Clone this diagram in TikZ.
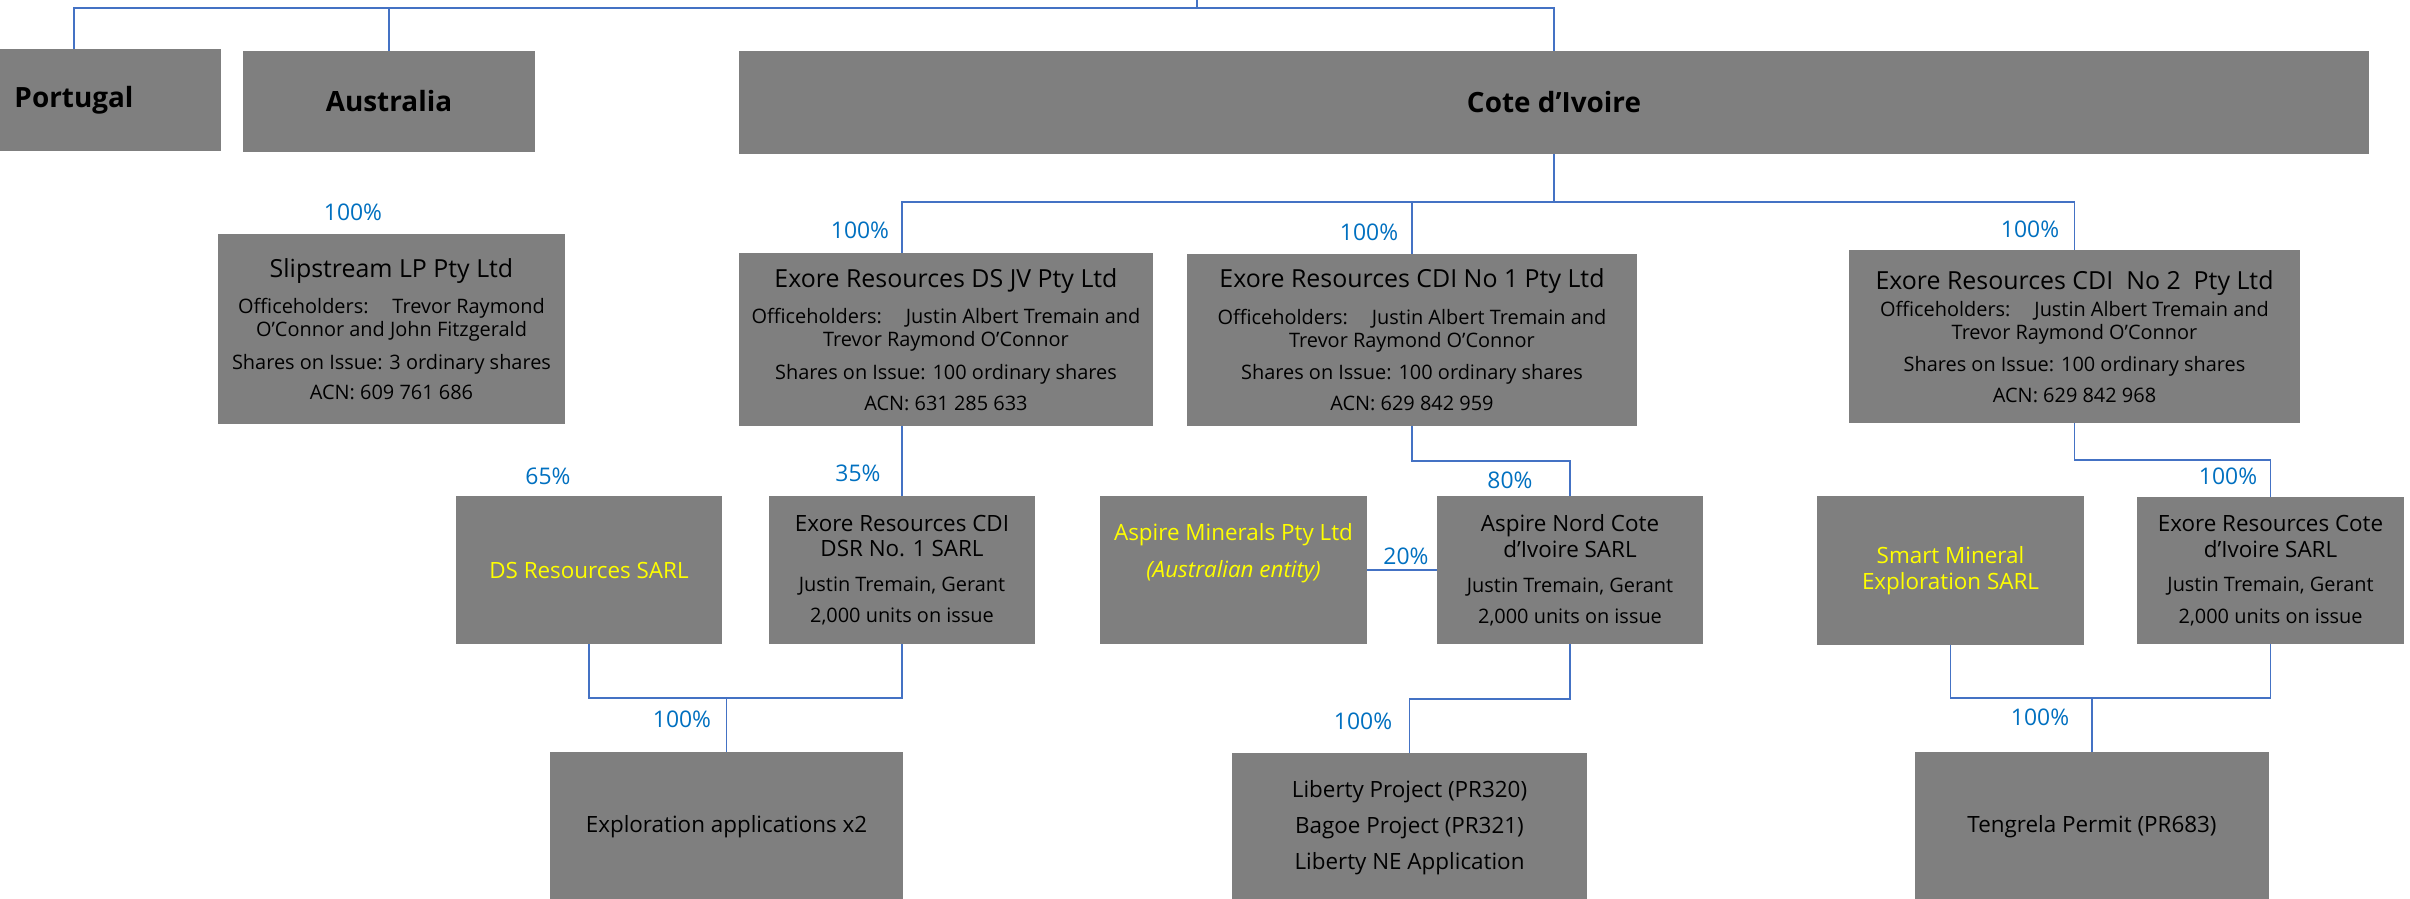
\documentclass[tikz,border=0pt]{standalone}
\usepackage{fontspec}
\setmainfont{Open Sans}
\definecolor{boxgray}{RGB}{127,127,127}
\definecolor{connblue}{RGB}{68,114,196}
\definecolor{pctblue}{RGB}{0,112,192}
\definecolor{ylwtext}{RGB}{255,255,0}
\newcommand\TA{\fontsize{25}{27}\selectfont}
\newcommand\TB{\fontsize{22.5}{26}\selectfont}
\newcommand\BD{\fontsize{20}{23}\selectfont}
\newcommand\ofgap{\hspace{1.2em}}
\tikzset{
  box/.style={rectangle, fill=boxgray, inner sep=0pt, align=center, font=\BD, text=black},
  conn/.style={draw=connblue, line width=1.5bp},
  pct/.style={text=pctblue, inner sep=0pt, font=\fontsize{23}{25}\selectfont},
  hdr/.style={font=\fontsize{28}{30}\selectfont\bfseries},
  ylw/.style={text=ylwtext},
}
\begin{document}
\begin{tikzpicture}[x=1bp,y=-1bp]
\useasboundingbox (0,0) rectangle (2410,898);
\fill[white] (0,0) rectangle (2410,898);
\clip (0,0) rectangle (2410,898);
% top level
\node[box,hdr,minimum width=294bp,minimum height=102bp] (portugal) at (74,100) {Portugal};
\node[box,hdr,minimum width=292bp,minimum height=101bp] (australia) at (389,101.5) {Australia};
\node[box,hdr,minimum width=1630bp,minimum height=103bp] (cote) at (1554,102.5) {Cote d’Ivoire};
% level 2
\node[box,minimum width=347bp,minimum height=190bp] (slip) at (391.5,329) {{\TA Slipstream LP Pty Ltd}\\[13.5pt] Officeholders:\ofgap Trevor Raymond\\ O’Connor and John Fitzgerald\\[10pt] Shares on Issue: 3 ordinary shares\\[7pt] ACN: 609 761 686};
\node[box,minimum width=414bp,minimum height=173bp] (dsjv) at (946,339.5) {{\TA Exore Resources DS JV Pty Ltd}\\[13.5pt] Officeholders:\ofgap Justin Albert Tremain and\\ Trevor Raymond O’Connor\\[10pt] Shares on Issue: 100 ordinary shares\\[8pt] ACN: 631 285 633};
\node[box,minimum width=450bp,minimum height=172bp] (cdi1) at (1412,340) {{\TA Exore Resources CDI No 1 Pty Ltd}\\[13.5pt] Officeholders:\ofgap Justin Albert Tremain and\\ Trevor Raymond O’Connor\\[10pt] Shares on Issue: 100 ordinary shares\\[8pt] ACN: 629 842 959};
\node[box,minimum width=451bp,minimum height=173bp] (cdi2) at (2074.5,336.5) {{\TA Exore Resources CDI\ \ No 2\ \ Pty Ltd}\\[4.5pt] Officeholders:\ofgap Justin Albert Tremain and\\ Trevor Raymond O’Connor\\[9pt] Shares on Issue: 100 ordinary shares\\[8pt] ACN: 629 842 968};
% level 3
\node[box,ylw,font=\TB,minimum width=266bp,minimum height=148bp] (dsr) at (589,570) {DS Resources SARL};
\node[box,minimum width=266bp,minimum height=148bp] (cdidsr) at (902,570) {{\TB Exore Resources CDI}\\[3pt]{\TB DSR No. 1 SARL}\\[12pt] Justin Tremain, Gerant\\[8pt] 2,000 units on issue};
\node[box,ylw,font=\TB,minimum width=267bp,minimum height=148bp] (aspmin) at (1233.5,570) {Aspire Minerals Pty Ltd\\[11pt]{\itshape (Australian entity)}\\[13.4pt]\mbox{}};
\node[box,minimum width=266bp,minimum height=148bp] (aspnord) at (1570,570) {{\TB Aspire Nord Cote}\\[3pt]{\TB d’Ivoire SARL}\\[12pt] Justin Tremain, Gerant\\[8pt] 2,000 units on issue};
\node[box,ylw,font=\TB,minimum width=267bp,minimum height=149bp] (smart) at (1950.5,570.5) {Smart Mineral\\ Exploration SARL};
\node[box,minimum width=267bp,minimum height=147bp] (exocdi) at (2270.5,570.5) {{\TB Exore Resources Cote}\\[3pt]{\TB d’Ivoire SARL}\\[11pt] Justin Tremain, Gerant\\[9pt] 2,000 units on issue};
% bottom level
\node[box,font=\TB,minimum width=353bp,minimum height=150bp] (expl) at (726.5,827) {Exploration applications x2};
\node[box,font=\TB,minimum width=355bp,minimum height=149bp] (liberty) at (1409.5,827.5) {Liberty Project (PR320)\\[10pt] Bagoe Project (PR321)\\[10pt] Liberty NE Application};
\node[box,font=\TB,minimum width=354bp,minimum height=150bp] (tengrela) at (2092,827) {Tengrela Permit (PR683)};
% connector junctions
\coordinate (root) at (1197,0);
\coordinate (rootj) at (1197,8);
\coordinate (jv) at (902,202);
\coordinate (j3) at (0,698);
\coordinate (j4) at (0,461);
\coordinate (j5) at (0,699);
\coordinate (j6) at (0,460);
\coordinate (j7) at (0,698);
% connectors
\draw[conn] (root) -- (rootj);
\draw[conn] (portugal.north) -- (portugal.north |- rootj) -- (cote.north |- rootj) -- (cote.north);
\draw[conn] (australia.north) -- (australia.north |- rootj);
\draw[conn] (cote.south) -- (cote.south |- jv);
\draw[conn] (dsjv.north -| jv) -- (jv) -- (cdi2.north |- jv) -- (cdi2.north);
\draw[conn] (cdi1.north) -- (cdi1.north |- jv);
\draw[conn] (dsjv.south -| cdidsr.north) -- (cdidsr.north);
\draw[conn] (dsr.south) -- (dsr.south |- j3) -- (cdidsr.south |- j3) -- (cdidsr.south);
\draw[conn] (expl.north) -- (expl.north |- j3);
\draw[conn] (cdi1.south) -- (cdi1.south |- j4) -- (aspnord.north |- j4) -- (aspnord.north);
\draw[conn] (aspmin.east) -- (aspnord.west);
\draw[conn] (aspnord.south) -- (aspnord.south |- j5) -- (liberty.north |- j5) -- (liberty.north);
\draw[conn] (cdi2.south) -- (cdi2.south |- j6) -- (exocdi.north |- j6) -- (exocdi.north);
\draw[conn] (smart.south) -- (smart.south |- j7) -- (exocdi.south |- j7) -- (exocdi.south);
\draw[conn] (tengrela.north) -- (tengrela.north |- j7);
% percentages
\node[pct] (p1) at (353,212) {100\%};
\node[pct] (p2) at (860,230) {100\%};
\node[pct] (p3) at (1369,232) {100\%};
\node[pct] (p4) at (2030,229) {100\%};
\node[pct] (p5) at (548,476) {65\%};
\node[pct] (p6) at (858,473) {35\%};
\node[pct] (p7) at (1510,480) {80\%};
\node[pct] (p8) at (1406,556) {20\%};
\node[pct] (p9) at (682,719) {100\%};
\node[pct] (p10) at (1363,721) {100\%};
\node[pct] (p11) at (2228,476) {100\%};
\node[pct] (p12) at (2040,717) {100\%};
\end{tikzpicture}
\end{document}
